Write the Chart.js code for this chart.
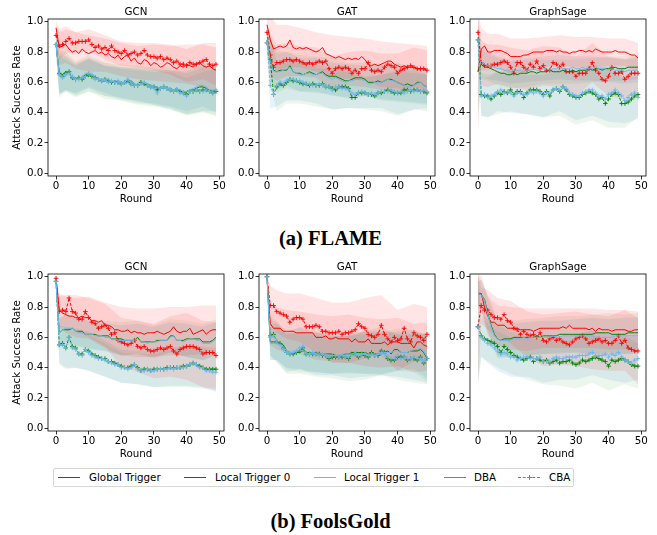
<!DOCTYPE html>
<html lang="en">
<head>
  <meta charset="UTF-8">
  <title>Attack Success Rate - FLAME / FoolsGold</title>
  <script src="https://cdn.jsdelivr.net/npm/chart.js"></script>
  <style>
    body { margin: 0; background: #fff; width: 657px; height: 535px; position: relative; overflow: hidden;
           font-family: 'DejaVu Sans', sans-serif; color: #000; }
    canvas { position: absolute; }
    .ptitle { position: absolute; font-size: 10.3px; line-height: 12px; text-align: center; }
    .caption { position: absolute; left: 2px; width: 657px; text-align: center; font-family: 'Liberation Serif', serif;
               font-weight: bold; font-size: 20.5px; line-height: 22px; }
    #legend { position: absolute; left: 53px; top: 468px; width: 521px; height: 19px; border: 1px solid #d6d6d6;
              border-radius: 2px; box-sizing: border-box; }
    .lg-line { position: absolute; top: 8px; width: 22px; height: 0; }
    .lg-plus { position: absolute; background: #808080; }
    .lg-text { position: absolute; top: 2px; font-size: 10.3px; line-height: 12px; white-space: nowrap; }
  </style>
</head>
<body>
  <div class="caption" style="top:227px">(a) FLAME</div>
  <div class="caption" style="top:509.5px">(b) FoolsGold</div>
  <div id="legend"></div>

  <script>
    // x positions, tick labels and band sample rounds
    const rounds = [0,1,2,3,4,5,6,7,8,9,10,11,12,13,14,15,16,17,18,19,20,21,22,23,24,25,26,27,28,29,30,31,32,33,34,35,36,37,38,39,40,41,42,43,44,45,46,47,48,49];
    const bandRounds = [0,1,3,6,10,15,20,25,30,35,40,45,49];
    const xTicks = [0,10,20,30,40,50];
    const yTicks = [0,0.2,0.4,0.6,0.8,1.0];
    const triggerNames = ['Global Trigger','Local Trigger 0','Local Trigger 1'];
    const methodNames = ['DBA','CBA'];

    // ---- FLAME / GCN ----
    const flameGcnGlobalDba = [0.96,0.83,0.84,0.85,0.82,0.80,0.81,0.79,0.82,0.80,0.79,0.80,0.81,0.79,0.80,0.78,0.79,0.77,0.76,0.78,0.75,0.77,0.78,0.74,0.76,0.73,0.72,0.75,0.74,0.71,0.73,0.72,0.70,0.71,0.73,0.72,0.70,0.69,0.71,0.70,0.72,0.71,0.70,0.72,0.73,0.71,0.70,0.71,0.69,0.68];
    const flameGcnGlobalCba = [0.91,0.84,0.85,0.87,0.89,0.86,0.86,0.87,0.87,0.87,0.88,0.85,0.83,0.84,0.82,0.83,0.81,0.84,0.81,0.80,0.79,0.81,0.78,0.79,0.80,0.78,0.79,0.81,0.78,0.77,0.77,0.76,0.77,0.75,0.76,0.75,0.73,0.74,0.72,0.72,0.71,0.73,0.72,0.72,0.73,0.74,0.75,0.72,0.71,0.72];
    const flameGcnLocal0Dba = [0.85,0.66,0.65,0.67,0.66,0.63,0.62,0.62,0.63,0.65,0.66,0.65,0.63,0.62,0.61,0.61,0.62,0.60,0.61,0.60,0.60,0.59,0.60,0.61,0.59,0.58,0.59,0.60,0.59,0.58,0.57,0.57,0.56,0.57,0.56,0.56,0.55,0.56,0.54,0.53,0.54,0.55,0.55,0.56,0.57,0.57,0.56,0.55,0.54,0.55];
    const flameGcnLocal0Cba = [0.85,0.66,0.64,0.66,0.67,0.63,0.62,0.63,0.62,0.64,0.65,0.64,0.63,0.62,0.61,0.62,0.61,0.60,0.60,0.60,0.59,0.60,0.61,0.59,0.58,0.58,0.60,0.59,0.58,0.57,0.57,0.55,0.56,0.57,0.56,0.55,0.54,0.55,0.54,0.53,0.52,0.54,0.54,0.55,0.54,0.55,0.55,0.54,0.53,0.54];
    const flameGcnLocal1Dba = [0.85,0.65,0.64,0.66,0.66,0.63,0.62,0.62,0.64,0.66,0.66,0.65,0.63,0.62,0.62,0.61,0.62,0.61,0.60,0.60,0.60,0.59,0.60,0.61,0.59,0.58,0.59,0.60,0.59,0.58,0.57,0.57,0.56,0.57,0.56,0.56,0.55,0.56,0.55,0.54,0.54,0.55,0.56,0.57,0.58,0.58,0.57,0.55,0.55,0.55];
    const flameGcnLocal1Cba = [0.85,0.65,0.63,0.65,0.66,0.64,0.62,0.62,0.63,0.64,0.66,0.65,0.62,0.62,0.61,0.62,0.60,0.61,0.60,0.61,0.59,0.60,0.62,0.59,0.58,0.58,0.59,0.60,0.58,0.57,0.56,0.53,0.56,0.57,0.56,0.55,0.54,0.55,0.53,0.53,0.51,0.54,0.54,0.55,0.54,0.54,0.55,0.54,0.53,0.55];
    const flameGcnGlobalDbaSd = [0.05,0.12,0.12,0.12,0.12,0.11,0.11,0.11,0.12,0.12,0.13,0.14,0.15];
    const flameGcnGlobalCbaSd = [0.06,0.09,0.08,0.07,0.07,0.08,0.08,0.08,0.09,0.10,0.11,0.12,0.14];
    const flameGcnLocal0DbaSd = [0.06,0.16,0.13,0.12,0.12,0.12,0.12,0.13,0.13,0.14,0.15,0.16,0.17];
    const flameGcnLocal0CbaSd = [0.06,0.14,0.12,0.11,0.11,0.11,0.11,0.12,0.12,0.13,0.14,0.15,0.16];
    const flameGcnLocal1DbaSd = [0.05,0.13,0.11,0.10,0.10,0.10,0.10,0.11,0.11,0.12,0.13,0.14,0.15];
    const flameGcnLocal1CbaSd = [0.05,0.12,0.10,0.09,0.09,0.09,0.10,0.10,0.11,0.12,0.12,0.13,0.14];

    // ---- FLAME / GAT ----
    const flameGatGlobalDba = [0.98,0.88,0.82,0.83,0.84,0.83,0.84,0.88,0.83,0.82,0.83,0.82,0.83,0.82,0.81,0.80,0.81,0.83,0.79,0.78,0.77,0.76,0.77,0.76,0.75,0.76,0.75,0.76,0.75,0.77,0.75,0.72,0.71,0.72,0.71,0.72,0.73,0.74,0.74,0.72,0.71,0.70,0.71,0.70,0.70,0.70,0.69,0.69,0.69,0.68];
    const flameGatGlobalCba = [0.93,0.78,0.70,0.73,0.73,0.74,0.75,0.75,0.74,0.75,0.74,0.73,0.72,0.73,0.72,0.73,0.74,0.73,0.74,0.69,0.66,0.69,0.70,0.69,0.70,0.69,0.66,0.68,0.66,0.69,0.69,0.73,0.68,0.67,0.68,0.67,0.70,0.72,0.71,0.70,0.66,0.68,0.69,0.70,0.71,0.70,0.69,0.69,0.69,0.68];
    const flameGatLocal0Dba = [0.88,0.75,0.68,0.67,0.68,0.68,0.68,0.71,0.67,0.66,0.66,0.65,0.66,0.67,0.66,0.65,0.66,0.67,0.65,0.64,0.64,0.64,0.63,0.62,0.61,0.61,0.62,0.63,0.63,0.63,0.62,0.60,0.60,0.60,0.61,0.60,0.61,0.62,0.62,0.61,0.60,0.59,0.58,0.59,0.58,0.58,0.60,0.60,0.58,0.57];
    const flameGatLocal0Cba = [0.86,0.75,0.52,0.57,0.59,0.58,0.60,0.62,0.61,0.61,0.60,0.59,0.59,0.58,0.59,0.58,0.58,0.59,0.57,0.57,0.56,0.55,0.57,0.57,0.57,0.56,0.50,0.50,0.53,0.53,0.53,0.52,0.52,0.51,0.53,0.53,0.54,0.55,0.54,0.53,0.53,0.53,0.55,0.55,0.54,0.55,0.55,0.54,0.54,0.53];
    const flameGatLocal1Dba = [0.88,0.74,0.67,0.67,0.67,0.68,0.69,0.70,0.67,0.66,0.65,0.65,0.66,0.66,0.65,0.65,0.66,0.66,0.64,0.63,0.62,0.63,0.62,0.61,0.60,0.61,0.61,0.62,0.62,0.62,0.61,0.59,0.59,0.60,0.60,0.60,0.61,0.62,0.61,0.61,0.60,0.59,0.58,0.57,0.57,0.58,0.59,0.60,0.58,0.57];
    const flameGatLocal1Cba = [0.86,0.58,0.52,0.58,0.60,0.59,0.61,0.62,0.62,0.61,0.61,0.60,0.59,0.59,0.58,0.58,0.59,0.58,0.57,0.57,0.55,0.57,0.57,0.56,0.56,0.55,0.53,0.52,0.53,0.54,0.53,0.52,0.53,0.52,0.53,0.54,0.54,0.54,0.55,0.54,0.53,0.54,0.53,0.54,0.55,0.54,0.55,0.54,0.55,0.54];
    const flameGatGlobalDbaSd = [0.05,0.16,0.15,0.14,0.13,0.13,0.14,0.14,0.14,0.15,0.15,0.15,0.16];
    const flameGatGlobalCbaSd = [0.06,0.14,0.12,0.11,0.10,0.10,0.11,0.11,0.12,0.12,0.13,0.13,0.13];
    const flameGatLocal0DbaSd = [0.06,0.15,0.14,0.12,0.12,0.12,0.12,0.12,0.11,0.12,0.13,0.12,0.12];
    const flameGatLocal0CbaSd = [0.06,0.17,0.16,0.14,0.14,0.14,0.14,0.13,0.11,0.12,0.15,0.13,0.12];
    const flameGatLocal1DbaSd = [0.05,0.13,0.12,0.11,0.11,0.11,0.11,0.11,0.10,0.11,0.12,0.11,0.11];
    const flameGatLocal1CbaSd = [0.05,0.15,0.14,0.13,0.13,0.12,0.13,0.12,0.10,0.11,0.14,0.12,0.11];

    // ---- FLAME / GraphSage ----
    const flameSageGlobalDba = [0.67,0.82,0.84,0.80,0.80,0.81,0.81,0.81,0.80,0.79,0.77,0.77,0.77,0.77,0.78,0.78,0.79,0.80,0.80,0.80,0.80,0.81,0.81,0.81,0.80,0.81,0.80,0.80,0.79,0.80,0.80,0.81,0.81,0.80,0.81,0.80,0.82,0.81,0.80,0.80,0.80,0.80,0.81,0.80,0.80,0.80,0.79,0.78,0.78,0.76];
    const flameSageGlobalCba = [0.93,0.73,0.71,0.71,0.71,0.72,0.72,0.73,0.74,0.73,0.70,0.66,0.73,0.73,0.70,0.68,0.72,0.70,0.74,0.69,0.71,0.68,0.68,0.73,0.72,0.70,0.72,0.67,0.67,0.67,0.64,0.66,0.66,0.66,0.69,0.73,0.68,0.66,0.62,0.61,0.64,0.70,0.66,0.66,0.67,0.62,0.64,0.66,0.66,0.66];
    const flameSageLocal0Dba = [0.67,0.72,0.70,0.70,0.69,0.68,0.67,0.66,0.66,0.65,0.65,0.66,0.65,0.66,0.66,0.66,0.67,0.67,0.66,0.67,0.67,0.67,0.68,0.67,0.67,0.67,0.68,0.67,0.67,0.68,0.67,0.68,0.68,0.68,0.69,0.68,0.69,0.69,0.68,0.69,0.69,0.69,0.70,0.69,0.69,0.69,0.70,0.70,0.70,0.70];
    const flameSageLocal0Cba = [0.88,0.52,0.51,0.51,0.49,0.51,0.53,0.52,0.54,0.53,0.55,0.52,0.54,0.54,0.50,0.53,0.55,0.55,0.55,0.54,0.52,0.54,0.51,0.55,0.56,0.54,0.57,0.55,0.52,0.51,0.50,0.50,0.52,0.53,0.54,0.53,0.52,0.49,0.50,0.46,0.49,0.52,0.53,0.52,0.46,0.46,0.47,0.49,0.51,0.52];
    const flameSageLocal1Dba = [0.70,0.74,0.72,0.71,0.71,0.70,0.69,0.69,0.68,0.68,0.67,0.68,0.68,0.68,0.67,0.68,0.68,0.69,0.68,0.68,0.69,0.69,0.68,0.69,0.69,0.70,0.69,0.69,0.69,0.70,0.69,0.69,0.70,0.69,0.69,0.69,0.70,0.69,0.69,0.69,0.68,0.69,0.68,0.68,0.68,0.67,0.68,0.68,0.68,0.68];
    const flameSageLocal1Cba = [0.88,0.51,0.52,0.50,0.51,0.52,0.54,0.55,0.53,0.54,0.53,0.51,0.53,0.53,0.52,0.52,0.54,0.53,0.54,0.53,0.51,0.53,0.53,0.55,0.56,0.55,0.57,0.56,0.53,0.52,0.51,0.51,0.53,0.54,0.55,0.55,0.53,0.51,0.51,0.49,0.52,0.53,0.55,0.53,0.51,0.48,0.50,0.52,0.53,0.50];
    const flameSageGlobalDbaSd = [0.40,0.14,0.12,0.11,0.12,0.11,0.10,0.10,0.10,0.10,0.09,0.09,0.10];
    const flameSageGlobalCbaSd = [0.10,0.15,0.14,0.13,0.13,0.13,0.13,0.13,0.13,0.13,0.13,0.13,0.12];
    const flameSageLocal0DbaSd = [0.30,0.10,0.09,0.09,0.09,0.09,0.08,0.08,0.08,0.08,0.08,0.08,0.08];
    const flameSageLocal0CbaSd = [0.10,0.14,0.14,0.14,0.14,0.14,0.15,0.16,0.18,0.18,0.19,0.16,0.15];
    const flameSageLocal1DbaSd = [0.30,0.10,0.09,0.08,0.08,0.08,0.08,0.08,0.08,0.08,0.08,0.08,0.08];
    const flameSageLocal1CbaSd = [0.10,0.13,0.13,0.13,0.13,0.13,0.14,0.14,0.16,0.17,0.18,0.15,0.14];

    // ---- FoolsGold / GCN ----
    const fgGcnGlobalDba = [0.99,0.78,0.76,0.75,0.74,0.74,0.73,0.73,0.74,0.73,0.73,0.71,0.71,0.70,0.71,0.68,0.68,0.67,0.65,0.65,0.64,0.64,0.65,0.63,0.64,0.63,0.63,0.62,0.63,0.63,0.63,0.64,0.63,0.62,0.63,0.64,0.67,0.64,0.63,0.64,0.64,0.66,0.62,0.63,0.64,0.65,0.62,0.64,0.65,0.65];
    const fgGcnGlobalCba = [0.99,0.77,0.78,0.77,0.86,0.77,0.76,0.72,0.72,0.77,0.73,0.70,0.69,0.66,0.67,0.68,0.66,0.62,0.63,0.58,0.57,0.56,0.55,0.56,0.58,0.54,0.53,0.54,0.52,0.51,0.51,0.52,0.53,0.52,0.53,0.54,0.51,0.49,0.52,0.53,0.54,0.54,0.54,0.53,0.52,0.49,0.50,0.50,0.50,0.48];
    const fgGcnLocal0Dba = [0.97,0.63,0.65,0.65,0.65,0.66,0.64,0.64,0.64,0.62,0.62,0.62,0.62,0.61,0.61,0.61,0.61,0.59,0.59,0.59,0.59,0.58,0.58,0.58,0.58,0.60,0.57,0.57,0.57,0.57,0.57,0.58,0.58,0.58,0.58,0.61,0.61,0.58,0.58,0.58,0.59,0.59,0.59,0.59,0.59,0.57,0.57,0.57,0.58,0.60];
    const fgGcnLocal0Cba = [0.97,0.55,0.56,0.53,0.60,0.54,0.53,0.49,0.49,0.52,0.51,0.49,0.48,0.47,0.46,0.46,0.44,0.44,0.43,0.42,0.41,0.40,0.40,0.41,0.42,0.40,0.38,0.39,0.39,0.38,0.39,0.39,0.39,0.39,0.40,0.40,0.40,0.40,0.40,0.41,0.41,0.42,0.43,0.42,0.41,0.40,0.39,0.39,0.39,0.39];
    const fgGcnLocal1Dba = [0.97,0.63,0.65,0.66,0.66,0.66,0.64,0.63,0.63,0.62,0.62,0.62,0.61,0.61,0.61,0.60,0.60,0.59,0.59,0.58,0.58,0.58,0.58,0.58,0.58,0.59,0.57,0.57,0.56,0.57,0.57,0.57,0.58,0.58,0.58,0.60,0.61,0.58,0.58,0.57,0.58,0.59,0.59,0.58,0.58,0.56,0.56,0.56,0.57,0.59];
    const fgGcnLocal1Cba = [0.97,0.55,0.55,0.53,0.60,0.53,0.52,0.49,0.48,0.52,0.50,0.48,0.47,0.46,0.46,0.45,0.44,0.43,0.42,0.42,0.40,0.40,0.39,0.40,0.42,0.39,0.38,0.38,0.39,0.38,0.38,0.39,0.39,0.39,0.39,0.40,0.39,0.40,0.40,0.40,0.41,0.42,0.43,0.42,0.40,0.40,0.38,0.38,0.37,0.37];
    const fgGcnGlobalDbaSd = [0.02,0.11,0.12,0.13,0.14,0.15,0.16,0.16,0.16,0.16,0.16,0.16,0.16];
    const fgGcnGlobalCbaSd = [0.02,0.10,0.11,0.12,0.13,0.14,0.16,0.17,0.18,0.20,0.22,0.22,0.22];
    const fgGcnLocal0DbaSd = [0.03,0.10,0.10,0.10,0.10,0.10,0.11,0.11,0.11,0.11,0.12,0.12,0.12];
    const fgGcnLocal0CbaSd = [0.03,0.13,0.14,0.13,0.13,0.12,0.11,0.11,0.12,0.13,0.14,0.14,0.14];
    const fgGcnLocal1DbaSd = [0.03,0.09,0.09,0.09,0.09,0.09,0.10,0.10,0.10,0.10,0.11,0.11,0.11];
    const fgGcnLocal1CbaSd = [0.03,0.12,0.13,0.12,0.12,0.11,0.10,0.10,0.11,0.12,0.13,0.13,0.13];

    // ---- FoolsGold / GAT ----
    const fgGatGlobalDba = [1.00,0.69,0.66,0.66,0.66,0.64,0.64,0.64,0.64,0.63,0.63,0.63,0.63,0.63,0.63,0.60,0.60,0.60,0.61,0.59,0.59,0.60,0.59,0.59,0.59,0.59,0.57,0.59,0.57,0.57,0.57,0.59,0.56,0.56,0.56,0.56,0.57,0.55,0.57,0.57,0.57,0.56,0.56,0.56,0.56,0.53,0.57,0.57,0.55,0.54];
    const fgGatGlobalCba = [1.00,0.81,0.81,0.77,0.76,0.75,0.74,0.70,0.72,0.73,0.73,0.72,0.67,0.67,0.67,0.68,0.67,0.64,0.64,0.63,0.63,0.63,0.64,0.62,0.63,0.63,0.64,0.65,0.69,0.67,0.66,0.62,0.61,0.60,0.62,0.68,0.62,0.59,0.57,0.60,0.58,0.59,0.66,0.59,0.57,0.63,0.61,0.60,0.58,0.62];
    const fgGatLocal0Dba = [1.00,0.57,0.57,0.57,0.56,0.55,0.51,0.50,0.50,0.50,0.50,0.51,0.50,0.50,0.50,0.50,0.49,0.49,0.49,0.49,0.49,0.48,0.48,0.48,0.49,0.49,0.50,0.50,0.50,0.50,0.50,0.49,0.49,0.49,0.49,0.49,0.50,0.51,0.49,0.52,0.52,0.50,0.50,0.50,0.51,0.51,0.51,0.52,0.50,0.46];
    const fgGatLocal0Cba = [1.00,0.61,0.62,0.57,0.56,0.53,0.50,0.49,0.49,0.50,0.51,0.53,0.49,0.49,0.49,0.49,0.49,0.48,0.48,0.46,0.47,0.47,0.47,0.47,0.47,0.46,0.49,0.49,0.47,0.49,0.48,0.47,0.50,0.48,0.48,0.51,0.50,0.46,0.45,0.45,0.47,0.47,0.47,0.45,0.46,0.46,0.45,0.47,0.43,0.46];
    const fgGatLocal1Dba = [1.00,0.56,0.56,0.56,0.55,0.54,0.51,0.50,0.50,0.51,0.51,0.51,0.50,0.49,0.49,0.49,0.49,0.49,0.49,0.48,0.48,0.48,0.48,0.49,0.49,0.49,0.49,0.50,0.49,0.49,0.49,0.48,0.48,0.48,0.49,0.49,0.50,0.50,0.50,0.51,0.51,0.50,0.50,0.50,0.51,0.52,0.52,0.53,0.51,0.47];
    const fgGatLocal1Cba = [1.00,0.60,0.61,0.57,0.55,0.52,0.50,0.49,0.50,0.51,0.53,0.54,0.49,0.49,0.50,0.49,0.48,0.49,0.48,0.47,0.48,0.48,0.47,0.48,0.47,0.47,0.48,0.49,0.48,0.49,0.49,0.48,0.49,0.48,0.49,0.50,0.49,0.47,0.46,0.46,0.48,0.46,0.47,0.46,0.46,0.47,0.46,0.46,0.44,0.46];
    const fgGatGlobalDbaSd = [0.02,0.14,0.14,0.14,0.14,0.15,0.15,0.16,0.16,0.16,0.16,0.16,0.16];
    const fgGatGlobalCbaSd = [0.02,0.13,0.14,0.15,0.16,0.18,0.20,0.20,0.20,0.20,0.20,0.19,0.18];
    const fgGatLocal0DbaSd = [0.02,0.12,0.12,0.12,0.13,0.13,0.13,0.13,0.14,0.14,0.14,0.14,0.15];
    const fgGatLocal0CbaSd = [0.02,0.13,0.14,0.14,0.15,0.15,0.14,0.15,0.16,0.16,0.15,0.16,0.17];
    const fgGatLocal1DbaSd = [0.02,0.11,0.11,0.11,0.12,0.12,0.12,0.12,0.13,0.13,0.13,0.13,0.14];
    const fgGatLocal1CbaSd = [0.02,0.12,0.13,0.13,0.14,0.14,0.13,0.14,0.15,0.15,0.14,0.15,0.16];

    // ---- FoolsGold / GraphSage ----
    const fgSageGlobalDba = [0.89,0.89,0.80,0.74,0.70,0.70,0.68,0.68,0.68,0.66,0.66,0.66,0.66,0.65,0.65,0.65,0.65,0.64,0.65,0.66,0.66,0.66,0.66,0.66,0.66,0.66,0.67,0.66,0.68,0.66,0.66,0.66,0.66,0.66,0.65,0.66,0.64,0.66,0.65,0.65,0.65,0.64,0.65,0.65,0.65,0.65,0.64,0.64,0.65,0.65];
    const fgSageGlobalCba = [0.67,0.81,0.78,0.78,0.75,0.73,0.73,0.72,0.75,0.71,0.70,0.66,0.65,0.62,0.64,0.62,0.61,0.62,0.60,0.63,0.58,0.57,0.59,0.60,0.58,0.59,0.57,0.56,0.55,0.57,0.59,0.60,0.61,0.59,0.56,0.57,0.58,0.59,0.57,0.58,0.56,0.56,0.58,0.61,0.56,0.58,0.53,0.52,0.51,0.51];
    const fgSageLocal0Dba = [0.89,0.88,0.85,0.76,0.68,0.62,0.59,0.58,0.59,0.59,0.59,0.60,0.60,0.60,0.60,0.60,0.60,0.60,0.61,0.60,0.61,0.61,0.61,0.61,0.61,0.62,0.62,0.62,0.62,0.62,0.62,0.62,0.62,0.62,0.62,0.62,0.63,0.63,0.63,0.63,0.63,0.62,0.62,0.62,0.62,0.62,0.63,0.63,0.63,0.63];
    const fgSageLocal0Cba = [0.67,0.61,0.59,0.58,0.57,0.56,0.54,0.50,0.54,0.52,0.50,0.48,0.47,0.46,0.45,0.46,0.47,0.44,0.46,0.45,0.44,0.45,0.43,0.44,0.45,0.43,0.44,0.44,0.45,0.43,0.42,0.43,0.45,0.44,0.45,0.46,0.47,0.46,0.45,0.44,0.41,0.45,0.44,0.45,0.46,0.45,0.44,0.42,0.41,0.41];
    const fgSageLocal1Dba = [0.89,0.88,0.84,0.75,0.67,0.61,0.59,0.58,0.58,0.58,0.58,0.59,0.59,0.59,0.60,0.59,0.60,0.60,0.60,0.60,0.60,0.60,0.60,0.61,0.60,0.60,0.61,0.61,0.61,0.61,0.61,0.61,0.61,0.61,0.61,0.61,0.60,0.60,0.60,0.60,0.60,0.60,0.61,0.61,0.61,0.61,0.61,0.61,0.61,0.61];
    const fgSageLocal1Cba = [0.67,0.60,0.58,0.56,0.55,0.53,0.51,0.49,0.50,0.49,0.47,0.47,0.45,0.46,0.47,0.47,0.46,0.46,0.46,0.47,0.44,0.44,0.44,0.46,0.47,0.46,0.46,0.47,0.47,0.47,0.47,0.48,0.48,0.48,0.49,0.50,0.48,0.48,0.48,0.49,0.47,0.49,0.48,0.50,0.47,0.45,0.44,0.43,0.45,0.46];
    const fgSageGlobalDbaSd = [0.10,0.12,0.13,0.13,0.14,0.14,0.13,0.13,0.13,0.13,0.13,0.13,0.12];
    const fgSageGlobalCbaSd = [0.40,0.12,0.13,0.13,0.14,0.15,0.17,0.17,0.18,0.18,0.18,0.20,0.22];
    const fgSageLocal0DbaSd = [0.08,0.10,0.12,0.13,0.12,0.12,0.12,0.12,0.12,0.13,0.13,0.13,0.13];
    const fgSageLocal0CbaSd = [0.40,0.14,0.14,0.14,0.14,0.14,0.15,0.15,0.16,0.16,0.16,0.16,0.15];
    const fgSageLocal1DbaSd = [0.08,0.10,0.11,0.12,0.11,0.11,0.11,0.11,0.11,0.12,0.12,0.12,0.12];
    const fgSageLocal1CbaSd = [0.35,0.13,0.13,0.13,0.13,0.13,0.14,0.14,0.15,0.15,0.15,0.15,0.14];

    // styling
    const lineColors = ['#ff0000', '#008000', '#72b6ee'];
    const bandColors = ['rgba(255,0,0,0.1)', 'rgba(0,128,0,0.07)', 'rgba(100,170,230,0.15)'];
    const tickFont = { family: 'DejaVu Sans', size: 10.3 };
    const plotLefts = [48, 259, 470];
    const plotTops = [19, 274];
    const plotW = 176, plotH = 157;

    // [mean, sd, trigger index, method]
    const panels = [
      { row: 0, col: 0, title: 'GCN', lines: [
        [flameGcnGlobalDba, flameGcnGlobalDbaSd, 0, 'DBA'], [flameGcnGlobalCba, flameGcnGlobalCbaSd, 0, 'CBA'],
        [flameGcnLocal0Dba, flameGcnLocal0DbaSd, 1, 'DBA'], [flameGcnLocal0Cba, flameGcnLocal0CbaSd, 1, 'CBA'],
        [flameGcnLocal1Dba, flameGcnLocal1DbaSd, 2, 'DBA'], [flameGcnLocal1Cba, flameGcnLocal1CbaSd, 2, 'CBA'] ] },
      { row: 0, col: 1, title: 'GAT', lines: [
        [flameGatGlobalDba, flameGatGlobalDbaSd, 0, 'DBA'], [flameGatGlobalCba, flameGatGlobalCbaSd, 0, 'CBA'],
        [flameGatLocal0Dba, flameGatLocal0DbaSd, 1, 'DBA'], [flameGatLocal0Cba, flameGatLocal0CbaSd, 1, 'CBA'],
        [flameGatLocal1Dba, flameGatLocal1DbaSd, 2, 'DBA'], [flameGatLocal1Cba, flameGatLocal1CbaSd, 2, 'CBA'] ] },
      { row: 0, col: 2, title: 'GraphSage', lines: [
        [flameSageGlobalDba, flameSageGlobalDbaSd, 0, 'DBA'], [flameSageGlobalCba, flameSageGlobalCbaSd, 0, 'CBA'],
        [flameSageLocal0Dba, flameSageLocal0DbaSd, 1, 'DBA'], [flameSageLocal0Cba, flameSageLocal0CbaSd, 1, 'CBA'],
        [flameSageLocal1Dba, flameSageLocal1DbaSd, 2, 'DBA'], [flameSageLocal1Cba, flameSageLocal1CbaSd, 2, 'CBA'] ] },
      { row: 1, col: 0, title: 'GCN', lines: [
        [fgGcnGlobalDba, fgGcnGlobalDbaSd, 0, 'DBA'], [fgGcnGlobalCba, fgGcnGlobalCbaSd, 0, 'CBA'],
        [fgGcnLocal0Dba, fgGcnLocal0DbaSd, 1, 'DBA'], [fgGcnLocal0Cba, fgGcnLocal0CbaSd, 1, 'CBA'],
        [fgGcnLocal1Dba, fgGcnLocal1DbaSd, 2, 'DBA'], [fgGcnLocal1Cba, fgGcnLocal1CbaSd, 2, 'CBA'] ] },
      { row: 1, col: 1, title: 'GAT', lines: [
        [fgGatGlobalDba, fgGatGlobalDbaSd, 0, 'DBA'], [fgGatGlobalCba, fgGatGlobalCbaSd, 0, 'CBA'],
        [fgGatLocal0Dba, fgGatLocal0DbaSd, 1, 'DBA'], [fgGatLocal0Cba, fgGatLocal0CbaSd, 1, 'CBA'],
        [fgGatLocal1Dba, fgGatLocal1DbaSd, 2, 'DBA'], [fgGatLocal1Cba, fgGatLocal1CbaSd, 2, 'CBA'] ] },
      { row: 1, col: 2, title: 'GraphSage', lines: [
        [fgSageGlobalDba, fgSageGlobalDbaSd, 0, 'DBA'], [fgSageGlobalCba, fgSageGlobalCbaSd, 0, 'CBA'],
        [fgSageLocal0Dba, fgSageLocal0DbaSd, 1, 'DBA'], [fgSageLocal0Cba, fgSageLocal0CbaSd, 1, 'CBA'],
        [fgSageLocal1Dba, fgSageLocal1DbaSd, 2, 'DBA'], [fgSageLocal1Cba, fgSageLocal1CbaSd, 2, 'CBA'] ] }
    ];

    // black box around each plot area, like matplotlib spines
    const frame = {
      id: 'frame',
      afterDatasetsDraw(chart) {
        const { ctx, chartArea: a } = chart;
        ctx.save();
        ctx.strokeStyle = '#000';
        ctx.lineWidth = 0.8;
        ctx.strokeRect(a.left, a.top, a.right - a.left, a.bottom - a.top);
        ctx.restore();
      }
    };

    function buildDatasets(lines) {
      const sets = [];
      // lowest index is drawn on top, so put the last-plotted series first
      lines.slice().reverse().forEach(([mean, sd, trig, method]) => {
        const cba = method === 'CBA';
        sets.push({
          label: triggerNames[trig] + ' ' + method,
          data: mean.map((v, i) => ({ x: rounds[i], y: v })),
          borderColor: lineColors[trig],
          borderWidth: 1,
          borderDash: cba ? [3, 1.6] : [],
          pointStyle: 'cross',
          pointRadius: cba ? 2.3 : 0,
          pointBorderWidth: 0.9,
          pointBorderColor: lineColors[trig],
          fill: false,
          tension: 0
        });
      });
      lines.forEach(([mean, sd, trig]) => {
        const lowIdx = sets.length;
        sets.push({
          label: 'low',
          data: bandRounds.map((r, i) => ({ x: r, y: mean[rounds.indexOf(r)] - sd[i] })),
          borderWidth: 0, borderColor: 'transparent', pointRadius: 0, fill: false, tension: 0
        });
        sets.push({
          label: 'high',
          data: bandRounds.map((r, i) => ({ x: r, y: mean[rounds.indexOf(r)] + sd[i] })),
          borderWidth: 0, borderColor: 'transparent', pointRadius: 0, tension: 0,
          fill: lowIdx, backgroundColor: bandColors[trig]
        });
      });
      return sets;
    }

    panels.forEach(p => {
      const yW = p.col === 0 ? 48 : 34;
      const cv = document.createElement('canvas');
      cv.width = yW + plotW + 8;
      cv.height = 10 + plotH + 34;
      cv.style.left = (plotLefts[p.col] - yW) + 'px';
      cv.style.top = (plotTops[p.row] - 10) + 'px';
      document.body.appendChild(cv);

      const t = document.createElement('div');
      t.className = 'ptitle';
      t.textContent = p.title;
      t.style.left = plotLefts[p.col] + 'px';
      t.style.width = plotW + 'px';
      t.style.top = (plotTops[p.row] - 14.5) + 'px';
      document.body.appendChild(t);

      new Chart(cv, {
        type: 'line',
        data: { datasets: buildDatasets(p.lines) },
        options: {
          responsive: false,
          animation: false,
          events: [],
          layout: { padding: { top: 10, right: 8, left: 0, bottom: 0 } },
          plugins: {
            legend: { display: false },
            tooltip: { enabled: false },
            filler: { drawTime: 'beforeDatasetsDraw' }
          },
          scales: {
            x: {
              type: 'linear', min: -2.45, max: 51.45,
              afterBuildTicks: s => { s.ticks = xTicks.map(v => ({ value: v })); },
              afterFit: s => { s.height = 34; },
              ticks: { font: tickFont, color: '#000', padding: 1, maxRotation: 0, callback: v => String(v) },
              grid: { drawOnChartArea: false, tickLength: 3.5, color: '#000', lineWidth: 0.8 },
              border: { display: false },
              title: { display: true, text: 'Round', font: tickFont, color: '#000', padding: { top: 0, bottom: 4.8 } }
            },
            y: {
              min: -0.018, max: 1.018,
              afterBuildTicks: s => { s.ticks = yTicks.map(v => ({ value: v })); },
              afterFit: s => { s.width = yW; },
              ticks: { font: tickFont, color: '#000', padding: 1.2, callback: v => v.toFixed(1) },
              grid: { drawOnChartArea: false, tickLength: 3.5, color: '#000', lineWidth: 0.8 },
              border: { display: false },
              title: { display: p.col === 0, text: 'Attack Success Rate', font: tickFont, color: '#000',
                       padding: { top: 11.3, bottom: 0 } }
            }
          }
        },
        plugins: [frame]
      });
    });

    // legend below the panels
    const legend = document.getElementById('legend');
    const legendItems = [
      { text: triggerNames[0], color: lineColors[0], dash: false, lineX: 4, textX: 35 },
      { text: triggerNames[1], color: lineColors[1], dash: false, lineX: 130, textX: 161 },
      { text: triggerNames[2], color: lineColors[2], dash: false, lineX: 260, textX: 290 },
      { text: methodNames[0], color: '#808080', dash: false, lineX: 390, textX: 420 },
      { text: methodNames[1], color: '#808080', dash: true, lineX: 464, textX: 495 }
    ];
    legendItems.forEach(it => {
      const l = document.createElement('div');
      l.className = 'lg-line';
      l.style.left = it.lineX + 'px';
      l.style.borderTop = '1px ' + (it.dash ? 'dashed ' : 'solid ') + it.color;
      legend.appendChild(l);
      if (it.dash) {
        const h = document.createElement('div');
        h.className = 'lg-plus';
        h.style.cssText = `left:${it.lineX + 9}px;top:8px;width:5px;height:1px;`;
        const v = document.createElement('div');
        v.className = 'lg-plus';
        v.style.cssText = `left:${it.lineX + 11}px;top:6px;width:1px;height:5px;`;
        legend.appendChild(h);
        legend.appendChild(v);
      }
      const s = document.createElement('div');
      s.className = 'lg-text';
      s.style.left = it.textX + 'px';
      s.textContent = it.text;
      legend.appendChild(s);
    });
  </script>
</body>
</html>
